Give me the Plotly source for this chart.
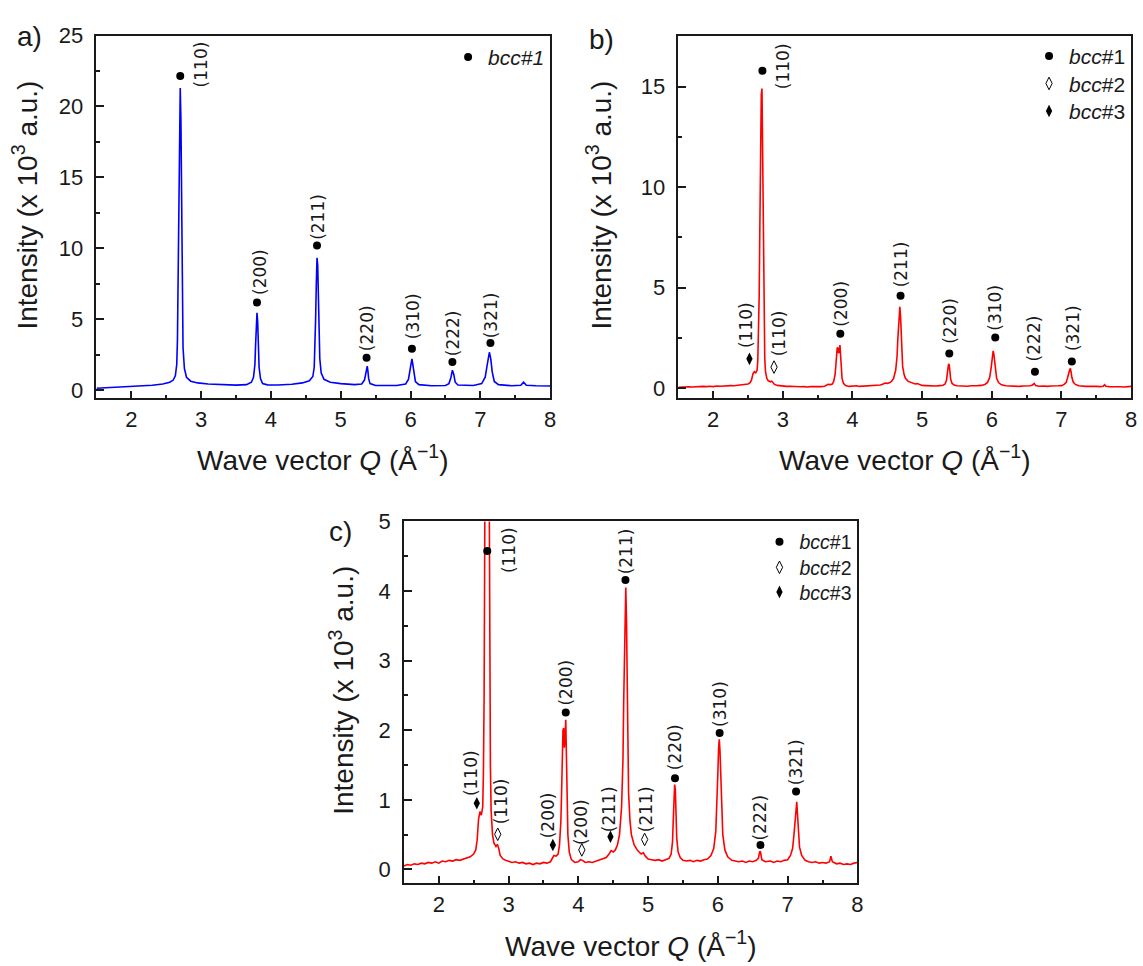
import plotly.graph_objects as go

# ---------------- diffraction patterns ----------------
# Panel a (blue pattern): wave vector Q (1/Angstrom) and intensity (x 10^3 a.u.)
Q_A = [1.50, 1.70, 1.90, 2.10, 2.30, 2.45, 2.55, 2.60, 2.63, 2.65,
       2.66, 2.67, 2.68, 2.69, 2.70, 2.71, 2.72, 2.73, 2.74, 2.76,
       2.79, 2.85, 2.95, 3.10, 3.30, 3.50, 3.65, 3.72, 3.75, 3.77,
       3.78, 3.79, 3.80, 3.81, 3.82, 3.83, 3.85, 3.88, 3.95, 4.10,
       4.30, 4.45, 4.55, 4.60, 4.62, 4.63, 4.64, 4.65, 4.66, 4.67,
       4.68, 4.69, 4.70, 4.72, 4.76, 4.85, 5.00, 5.20, 5.30, 5.34,
       5.36, 5.37, 5.38, 5.39, 5.40, 5.42, 5.50, 5.80, 5.93, 5.97,
       5.99, 6.01, 6.02, 6.03, 6.05, 6.07, 6.12, 6.30, 6.50, 6.55,
       6.58, 6.60, 6.62, 6.64, 6.68, 6.90, 7.02, 7.07, 7.10, 7.12,
       7.13, 7.15, 7.17, 7.20, 7.26, 7.45, 7.58, 7.62, 7.66, 7.80,
       8.00]
I_A = [0.12, 0.16, 0.21, 0.27, 0.33, 0.42, 0.55, 0.70, 1.00, 1.80,
       3.50, 8.00, 14.5, 19.5, 21.3, 19.0, 13.0, 6.50, 3.00, 1.50,
       0.90, 0.62, 0.50, 0.42, 0.36, 0.34, 0.38, 0.55, 0.90, 1.80,
       3.20, 4.60, 5.44, 4.80, 3.00, 1.60, 0.80, 0.45, 0.36, 0.35,
       0.40, 0.50, 0.65, 0.95, 1.60, 2.80, 5.00, 7.50, 9.33, 8.80,
       6.50, 3.80, 2.20, 1.20, 0.75, 0.55, 0.45, 0.38, 0.42, 0.70,
       1.20, 1.60, 1.69, 1.30, 0.80, 0.45, 0.32, 0.32, 0.42, 0.75,
       1.30, 2.00, 2.20, 1.90, 1.10, 0.60, 0.38, 0.30, 0.32, 0.45,
       0.90, 1.39, 1.10, 0.55, 0.35, 0.32, 0.45, 0.90, 1.80, 2.50,
       2.66, 2.20, 1.30, 0.60, 0.38, 0.30, 0.33, 0.55, 0.33, 0.30,
       0.28]

# Panels b and c (red pattern, c is an enlarged view of b)
Q_B = [1.50, 1.55, 1.60, 1.65, 1.70, 1.75, 1.80, 1.85, 1.90, 1.95,
       2.00, 2.05, 2.10, 2.15, 2.20, 2.25, 2.30, 2.35, 2.40, 2.45,
       2.50, 2.53, 2.55, 2.57, 2.59, 2.61, 2.63, 2.64, 2.65, 2.66,
       2.67, 2.68, 2.69, 2.70, 2.71, 2.72, 2.73, 2.74, 2.75, 2.77,
       2.79, 2.82, 2.84, 2.86, 2.88, 2.92, 2.96, 3.00, 3.05, 3.10,
       3.15, 3.20, 3.25, 3.30, 3.35, 3.40, 3.45, 3.50, 3.55, 3.60,
       3.63, 3.65, 3.68, 3.71, 3.73, 3.75, 3.76, 3.77, 3.78, 3.79,
       3.80, 3.81, 3.82, 3.83, 3.84, 3.85, 3.87, 3.90, 3.95, 4.00,
       4.03, 4.06, 4.10, 4.15, 4.20, 4.25, 4.30, 4.35, 4.40, 4.44,
       4.47, 4.50, 4.53, 4.56, 4.59, 4.62, 4.64, 4.65, 4.66, 4.67,
       4.68, 4.69, 4.70, 4.71, 4.72, 4.74, 4.76, 4.80, 4.85, 4.90,
       4.93, 4.96, 5.00, 5.05, 5.10, 5.15, 5.20, 5.25, 5.30, 5.33,
       5.35, 5.36, 5.37, 5.38, 5.39, 5.40, 5.41, 5.43, 5.46, 5.50,
       5.55, 5.60, 5.65, 5.70, 5.75, 5.80, 5.85, 5.90, 5.94, 5.97,
       5.99, 6.00, 6.01, 6.02, 6.03, 6.04, 6.05, 6.07, 6.10, 6.14,
       6.20, 6.25, 6.30, 6.35, 6.40, 6.45, 6.50, 6.55, 6.58, 6.60,
       6.61, 6.63, 6.68, 6.75, 6.80, 6.85, 6.90, 6.95, 7.00, 7.04,
       7.07, 7.09, 7.11, 7.12, 7.13, 7.14, 7.15, 7.17, 7.20, 7.25,
       7.30, 7.35, 7.40, 7.45, 7.50, 7.55, 7.60, 7.62, 7.64, 7.70,
       7.75, 7.80, 7.85, 7.90, 7.95, 8.00]
I_B = [0.05, 0.07, 0.06, 0.08, 0.07, 0.09, 0.08, 0.10, 0.09, 0.11,
       0.09, 0.12, 0.11, 0.13, 0.12, 0.14, 0.13, 0.15, 0.16, 0.18,
       0.22, 0.28, 0.42, 0.72, 0.83, 0.78, 0.90, 1.40, 2.50, 4.60,
       8.20, 12.2, 14.6, 14.9, 11.5, 6.20, 3.00, 1.50, 0.85, 0.50,
       0.38, 0.33, 0.36, 0.30, 0.20, 0.15, 0.13, 0.12, 0.10, 0.11,
       0.09, 0.10, 0.08, 0.09, 0.07, 0.09, 0.08, 0.10, 0.09, 0.11,
       0.16, 0.20, 0.19, 0.22, 0.35, 0.70, 1.10, 1.60, 2.00, 2.03,
       1.75, 1.90, 2.15, 1.60, 0.90, 0.50, 0.25, 0.14, 0.10, 0.11,
       0.14, 0.13, 0.10, 0.11, 0.10, 0.12, 0.13, 0.15, 0.17, 0.22,
       0.27, 0.25, 0.28, 0.35, 0.50, 0.90, 1.60, 2.40, 3.20, 3.90,
       4.05, 3.60, 2.60, 1.70, 1.10, 0.70, 0.50, 0.35, 0.27, 0.22,
       0.24, 0.19, 0.15, 0.14, 0.13, 0.14, 0.12, 0.14, 0.16, 0.22,
       0.40, 0.70, 1.00, 1.22, 1.15, 0.75, 0.45, 0.25, 0.17, 0.13,
       0.12, 0.13, 0.11, 0.13, 0.12, 0.14, 0.15, 0.20, 0.30, 0.55,
       1.00, 1.40, 1.75, 1.87, 1.70, 1.30, 0.90, 0.50, 0.28, 0.18,
       0.13, 0.12, 0.11, 0.12, 0.10, 0.12, 0.11, 0.13, 0.16, 0.26,
       0.25, 0.14, 0.11, 0.12, 0.10, 0.12, 0.11, 0.13, 0.14, 0.20,
       0.30, 0.50, 0.80, 0.95, 0.97, 0.80, 0.55, 0.32, 0.20, 0.13,
       0.11, 0.10, 0.11, 0.09, 0.10, 0.09, 0.11, 0.19, 0.11, 0.08,
       0.09, 0.07, 0.08, 0.07, 0.09, 0.10]

# ---------------- peak indexing ----------------
# reflection, phase (1 = bcc#1, 2 = bcc#2, 3 = bcc#3), marker position, label base position
A_HKL = ["(110)", "(200)", "(211)", "(220)", "(310)", "(222)", "(321)"]
A_PHASE = [1, 1, 1, 1, 1, 1, 1]
A_MARK_Q = [2.70, 3.80, 4.66, 5.37, 6.02, 6.60, 7.145]
A_MARK_I = [22.15, 6.18, 10.19, 2.27, 2.90, 1.97, 3.31]
A_LAB_Q = [3.00, 3.84, 4.68, 5.38, 6.03, 6.60, 7.145]
A_LAB_I = [21.5, 6.83, 10.76, 2.90, 3.70, 2.55, 3.82]

B_HKL = ["(110)", "(110)", "(110)", "(200)", "(211)", "(220)", "(310)", "(222)", "(321)"]
B_PHASE = [1, 3, 2, 1, 1, 1, 1, 1, 1]
B_MARK_Q = [2.706, 2.52, 2.873, 3.825, 4.69, 5.39, 6.05, 6.62, 7.15]
B_MARK_I = [15.78, 1.47, 1.06, 2.72, 4.61, 1.73, 2.53, 0.83, 1.34]
B_LAB_Q = [3.00, 2.48, 2.94, 3.83, 4.69, 5.39, 6.05, 6.62, 7.16]
B_LAB_I = [14.96, 2.09, 1.68, 3.15, 5.10, 2.33, 2.98, 1.44, 1.93]

C_HKL = ["(110)", "(110)", "(110)", "(200)", "(200)", "(200)", "(211)", "(211)",
         "(211)", "(220)", "(310)", "(222)", "(321)"]
C_PHASE = [1, 3, 2, 3, 2, 1, 3, 1, 2, 1, 1, 1, 1]
C_MARK_Q = [2.695, 2.545, 2.845, 3.635, 4.05, 3.82, 4.46, 4.675, 4.95, 5.385, 6.025, 6.61, 7.12]
C_MARK_I = [4.575, 0.95, 0.505, 0.35, 0.28, 2.255, 0.47, 4.16, 0.43, 1.31, 1.96, 0.35, 1.12]
C_LAB_Q = [3.01, 2.46, 2.895, 3.56, 4.04, 3.82, 4.45, 4.685, 4.98, 5.395, 6.02, 6.61, 7.12]
C_LAB_I = [4.29, 1.08, 0.68, 0.47, 0.38, 2.38, 0.56, 4.27, 0.56, 1.45, 2.08, 0.45, 1.24]

# ---------------- axes ----------------
X_TICKS = [2, 3, 4, 5, 6, 7, 8]
Y_TICKS_A = [0, 5, 10, 15, 20, 25]
Y_TICKS_B = [0, 5, 10, 15]
Y_TICKS_C = [0, 1, 2, 3, 4, 5]

X_TITLE = "Wave vector <i>Q</i> (Å<sup>−1</sup>)"
Y_TITLE = "Intensity (x 10<sup>3</sup> a.u.)"
PHASE_NAMES_A = {1: "<i>bcc#1</i>"}
PHASE_NAMES = {1: "<i>bcc</i>#1", 2: "<i>bcc</i>#2", 3: "<i>bcc</i>#3"}

# ---------------- styling ----------------
W, H = 1143, 966
FONT = "Liberation Sans, Arial, sans-serif"
LABEL_FONT = "DejaVu Sans, sans-serif"
INK = "#1a1a1a"

PHASE_MARKER = {
    1: dict(symbol="circle", size=8, color="black", line=dict(width=0)),
    2: dict(symbol="diamond-tall-open", size=9, color="black", line=dict(width=1, color="black")),
    3: dict(symbol="diamond-tall", size=9, color="black", line=dict(width=0)),
}


def px_x(p):
    return p / W


def px_y(p):
    return 1 - p / H


PANELS = [
    dict(tag="a)", xa="x", ya="y",
         dom_x=(97, 553), dom_y=(24, 393), yrange=[-0.6, 25.0],
         yticks=Y_TICKS_A, ydminor=2.5,
         q=Q_A, i=I_A, color="#0000ff",
         hkl=A_HKL, phase=A_PHASE, mq=A_MARK_Q, mi=A_MARK_I, lq=A_LAB_Q, li=A_LAB_I,
         names=PHASE_NAMES_A,
         letter_xy=(30, 25), ytitle_xy=(25, 196), xtitle_xy=(325, 454),
         legend_x=553, legend_rows={1: 46}, legend_size=21),
    dict(tag="b)", xa="x2", ya="y2",
         dom_x=(682, 1137), dom_y=(24, 393), yrange=[-0.5, 17.53],
         yticks=Y_TICKS_B, ydminor=2.5,
         q=Q_B, i=I_B, color="#ff0000",
         hkl=B_HKL, phase=B_PHASE, mq=B_MARK_Q, mi=B_MARK_I, lq=B_LAB_Q, li=B_LAB_I,
         names=PHASE_NAMES,
         letter_xy=(605, 28), ytitle_xy=(602, 196), xtitle_xy=(910, 454),
         legend_x=1137, legend_rows={1: 45, 2: 73, 3: 101}, legend_size=21),
    dict(tag="c)", xa="x3", ya="y3",
         dom_x=(406, 862), dom_y=(518, 886), yrange=[-0.2, 5.0],
         yticks=Y_TICKS_C, ydminor=0.5,
         q=Q_B, i=I_B, color="#ff0000",
         hkl=C_HKL, phase=C_PHASE, mq=C_MARK_Q, mi=C_MARK_I, lq=C_LAB_Q, li=C_LAB_I,
         names=PHASE_NAMES,
         letter_xy=(342, 528), ytitle_xy=(343, 690), xtitle_xy=(634, 948),
         legend_x=862, legend_rows={1: 539, 2: 565, 3: 590}, legend_size=19.5),
]

fig = go.Figure()
layout = dict(
    width=W, height=H,
    margin=dict(l=0, r=0, t=0, b=0),
    paper_bgcolor="white", plot_bgcolor="white",
    font=dict(family=FONT, color=INK),
    annotations=[],
)

legend_count = 0
for p in PANELS:
    # measured pattern
    fig.add_trace(go.Scatter(
        x=p["q"], y=p["i"], mode="lines",
        line=dict(color=p["color"], width=1.6),
        xaxis=p["xa"], yaxis=p["ya"], showlegend=False, hoverinfo="skip",
    ))
    # phase markers, each phase with its own legend entry box
    for ph in sorted(p["names"]):
        legend_count += 1
        lg = "legend" if legend_count == 1 else "legend%d" % legend_count
        idx = [k for k, v in enumerate(p["phase"]) if v == ph]
        fig.add_trace(go.Scatter(
            x=[p["mq"][k] for k in idx], y=[p["mi"][k] for k in idx],
            mode="markers", marker=PHASE_MARKER[ph], name=p["names"][ph],
            xaxis=p["xa"], yaxis=p["ya"], legend=lg, showlegend=True,
            cliponaxis=False,
        ))
        layout[lg] = dict(
            x=px_x(p["legend_x"]), y=px_y(p["legend_rows"][ph]),
            xanchor="right", yanchor="middle",
            bgcolor="rgba(0,0,0,0)", borderwidth=0,
            font=dict(family=FONT, size=p["legend_size"], color=INK), itemwidth=30,
        )
    # reflection labels
    for k, txt in enumerate(p["hkl"]):
        layout["annotations"].append(dict(
            x=p["lq"][k], y=p["li"][k], xref=p["xa"], yref=p["ya"],
            text=txt, textangle=-90, showarrow=False,
            xanchor="center", yanchor="bottom", borderpad=0, yshift=-3,
            font=dict(family=LABEL_FONT, size=17, color=INK),
        ))
    # panel letter and axis titles
    lx, ly = p["letter_xy"]
    layout["annotations"].append(dict(
        x=px_x(lx), y=px_y(ly), xref="paper", yref="paper", text=p["tag"],
        showarrow=False, xanchor="center", yanchor="middle",
        font=dict(family=FONT, size=28, color=INK)))
    tx, ty = p["ytitle_xy"]
    layout["annotations"].append(dict(
        x=px_x(tx), y=px_y(ty), xref="paper", yref="paper", text=Y_TITLE,
        textangle=-90, showarrow=False, xanchor="center", yanchor="middle",
        font=dict(family=FONT, size=28, color=INK)))
    tx, ty = p["xtitle_xy"]
    layout["annotations"].append(dict(
        x=px_x(tx), y=px_y(ty), xref="paper", yref="paper", text=X_TITLE,
        showarrow=False, xanchor="center", yanchor="middle",
        font=dict(family=FONT, size=28, color=INK)))

    axis_common = dict(
        showline=True, linecolor=INK, linewidth=1.6, mirror=True,
        ticks="inside", ticklen=8, tickwidth=1.6, tickcolor=INK,
        showgrid=False, zeroline=False,
        tickfont=dict(family=FONT, size=22, color=INK),
    )
    xname = "xaxis" + p["xa"][1:]
    yname = "yaxis" + p["ya"][1:]
    layout[xname] = dict(
        axis_common, domain=[px_x(p["dom_x"][0]), px_x(p["dom_x"][1])],
        range=[1.5, 8], tickvals=X_TICKS, anchor=p["ya"],
        minor=dict(ticks="inside", ticklen=4, tickwidth=1.6, tickcolor=INK, dtick=0.5, tick0=1.5),
    )
    layout[yname] = dict(
        axis_common, domain=[px_y(p["dom_y"][1]), px_y(p["dom_y"][0])],
        range=p["yrange"], tickvals=p["yticks"], anchor=p["xa"],
        ticklabelstandoff=7,
        minor=dict(ticks="inside", ticklen=4, tickwidth=1.6, tickcolor=INK,
                   dtick=p["ydminor"], tick0=0),
    )

fig.update_layout(**layout)
fig.write_html("out.html", config={"displayModeBar": False})
